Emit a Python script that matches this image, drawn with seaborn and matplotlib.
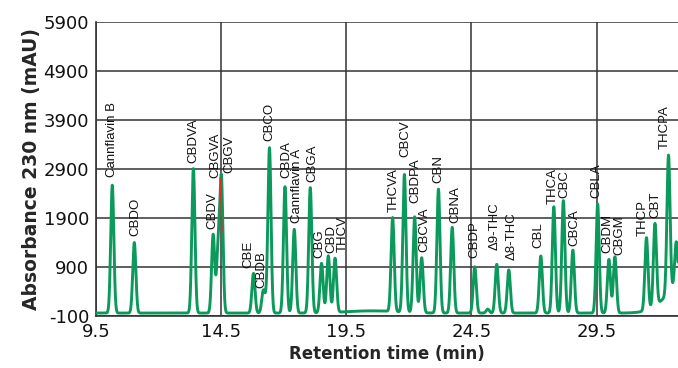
import numpy as np
import pandas as pd
import matplotlib
matplotlib.use("Agg")
import matplotlib.pyplot as plt
import seaborn as sns

# ---- data ----
peak_names = ["Cannflavin B", "CBDO", "CBDVA", "CBDV", "CBGVA", "CBGV", "CBE", "CBDB",
              "CBCO", "CBDA", "Cannflavin A", "CBGA", "CBG", "CBD", "THCV",
              "THCVA", "CBCV", "CBDPA", "CBCVA", "CBN", "CBNA", "CBDP", "Δ9-THC", "Δ8-THC",
              "CBL", "THCA", "CBC", "CBCA", "CBLA", "CBDM", "CBGM", "THCP", "CBT", "THCPA"]
peak_times = [10.15, 11.03, 13.39, 14.18, 14.38, 14.51, 15.79, 16.18,
              16.43, 17.05, 17.42, 18.06, 18.51, 18.78, 19.05,
              21.35, 21.82, 22.23, 22.51, 23.18, 23.73, 24.63, 25.51, 25.99,
              27.27, 27.79, 28.17, 28.55, 29.54, 29.99, 30.23, 31.49, 31.83, 32.37]
peak_heights = [2570, 1400, 2910, 1570, 1540, 2780, 770, 430,
                3335, 2540, 1670, 2520, 975, 1130, 1080,
                1910, 2790, 1925, 1090, 2490, 1710, 905, 955, 840,
                1125, 2130, 2255, 1245, 2185, 1055, 1110, 1500, 1790, 3185]

# unlabelled features of the trace
extra_times = [16.29, 25.15, 32.68]
extra_heights = [480, 40, 1416]

# slow baseline drift components (centre, width, amplitude)
drift_centres = [20.5, 33.0]
drift_widths = [1.0, 0.7]
drift_amps = [45, 600]
baseline_level = -40

# red trace visible behind the green one near CBGV
red_times = [14.46, 14.53]
red_values = [2720, 1620]

x_ticks = [9.5, 14.5, 19.5, 24.5, 29.5]
y_ticks = [-100, 900, 1900, 2900, 3900, 4900, 5900]

# label placement offsets in pixels (layout only)
label_dx = [0, 1, 0, -1, -3, 8, -5, -2, 0, 1, 3, 2, -2, 3, 8,
            1, 1, 1, 3, 0, 3, 0, -2, 3, -2, -1, 1, 2, -1, -2, 4, -4, 0, -4]
label_dy = [8, 7, 6, 5, 58, 2, 5, 2, 7, 9, 6, 6, 5, 3, 6,
            6, 17, 14, 6, 6, 4, 9, 14, 10, 8, 3, 3, 4, 6, 6, 2, 2, 5, 6]

# ---- build trace from peak table ----
t = np.linspace(9.5, 32.8, 8000)
sigma = 0.062
all_t = np.array(peak_times + extra_times)
all_h = np.array(peak_heights + extra_heights, dtype=float)


def drift(x):
    out = np.full_like(np.asarray(x, dtype=float), baseline_level, dtype=float)
    for c, w, a in zip(drift_centres, drift_widths, drift_amps):
        out += a * np.exp(-0.5 * ((x - c) / w) ** 2)
    return out


# solve amplitudes so that apex values match the read heights
K = np.exp(-0.5 * ((all_t[:, None] - all_t[None, :]) / sigma) ** 2)
amps = np.linalg.solve(K, all_h - drift(all_t))

signal = drift(t)
for pt, a in zip(all_t, amps):
    signal += a * np.exp(-0.5 * ((t - pt) / sigma) ** 2)

df = pd.DataFrame({"time": t, "abs": signal})
red_df = pd.DataFrame({"time": red_times, "abs": red_values})

sns.set_style("white")
plt.rcParams["font.family"] = ["DejaVu Sans"]

fig = plt.figure(figsize=(6.78, 3.68), dpi=100)
ax = fig.add_axes([0.1416, 0.1413, 0.8584, 0.7987])

GREEN = "#0b9a5c"
sns.lineplot(data=df, x="time", y="abs", ax=ax, color=GREEN, linewidth=2.1, zorder=3)
sns.lineplot(data=red_df, x="time", y="abs", ax=ax, color="#e8262a", linewidth=1.0, zorder=4)

ax.set_xlim(9.5, 32.75)
ax.set_ylim(-100, 5900)
ax.set_xticks(x_ticks)
ax.set_xticklabels([f"{v:.1f}" for v in x_ticks])
ax.set_yticks(y_ticks)
ax.set_yticklabels([str(v) for v in y_ticks])
ax.grid(True, color="#333333", linewidth=1.1)
ax.set_axisbelow(True)
for s in ["top", "right"]:
    ax.spines[s].set_visible(False)
for s in ["left", "bottom"]:
    ax.spines[s].set_color("#333333")
    ax.spines[s].set_linewidth(1.2)
ax.tick_params(axis="both", length=0, labelsize=13, colors="#111111", pad=5)

ax.set_xlabel("Retention time (min)", fontsize=12, fontweight="bold", labelpad=3)
ax.set_ylabel("Absorbance 230 nm (mAU)", fontsize=13.5, fontweight="bold", labelpad=2)

for name, pt, ph, dx, dy in zip(peak_names, peak_times, peak_heights, label_dx, label_dy):
    ax.annotate(name, xy=(pt, ph), xytext=(dx, dy), textcoords="offset pixels",
                rotation=90, ha="center", va="bottom", fontsize=9.5,
                family=["Liberation Sans", "DejaVu Sans"], color="#111111", zorder=5)

fig.savefig("out.png", dpi=100)
